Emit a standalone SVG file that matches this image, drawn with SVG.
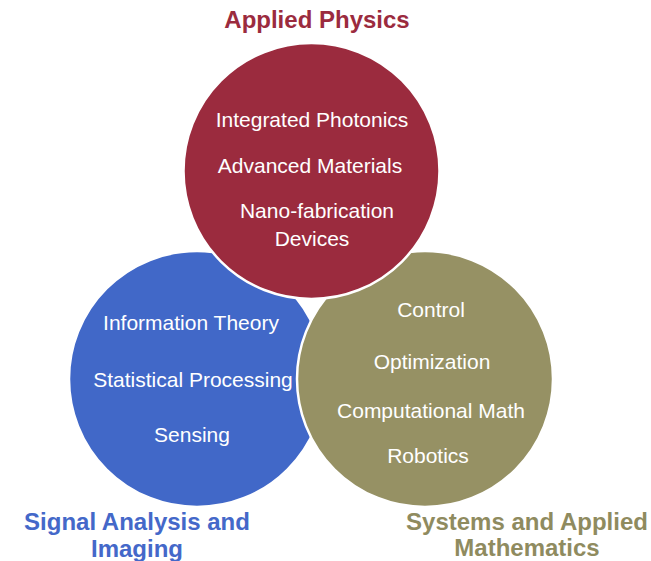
<svg xmlns="http://www.w3.org/2000/svg" width="651" height="561" viewBox="0 0 651 561">
<style>
.c{stroke:#fff;stroke-width:2.5}
.t{font-family:"Liberation Sans",Arial,sans-serif;font-size:21px;fill:#fff;text-anchor:middle}
.h{font-family:"Liberation Sans",Arial,sans-serif;font-size:24px;font-weight:bold;text-anchor:middle}
</style>
<rect width="651" height="561" fill="#fff"/>
<g id="signal">
<circle class="c" cx="197" cy="379" r="128" fill="#4168C8"/>
</g>
<g id="systems">
<circle class="c" cx="425" cy="379" r="128" fill="#969164"/>
</g>
<g id="physics">
<circle class="c" cx="311.5" cy="171" r="128" fill="#9B2B3E"/>
</g>
<g id="labels">
<text class="h" x="317" y="28" fill="#9B2B3E">Applied Physics</text>
<text class="h" x="137" y="530" fill="#4468C9">Signal Analysis and</text>
<text class="h" x="137" y="557" fill="#4468C9">Imaging</text>
<text class="h" x="527" y="530" fill="#8F8B5F">Systems and Applied</text>
<text class="h" x="527" y="556" fill="#8F8B5F">Mathematics</text>
</g>
<g id="physics-topics">
<text class="t" x="312" y="127">Integrated Photonics</text>
<text class="t" x="310" y="173">Advanced Materials</text>
<text class="t" x="317" y="218">Nano-fabrication</text>
<text class="t" x="312" y="246">Devices</text>
</g>
<g id="signal-topics">
<text class="t" x="191" y="330">Information Theory</text>
<text class="t" x="193" y="387">Statistical Processing</text>
<text class="t" x="192" y="442">Sensing</text>
</g>
<g id="systems-topics">
<text class="t" x="431" y="317">Control</text>
<text class="t" x="432" y="369">Optimization</text>
<text class="t" x="431" y="418">Computational Math</text>
<text class="t" x="428" y="463">Robotics</text>
</g>
<g id="connectors"/>
</svg>
